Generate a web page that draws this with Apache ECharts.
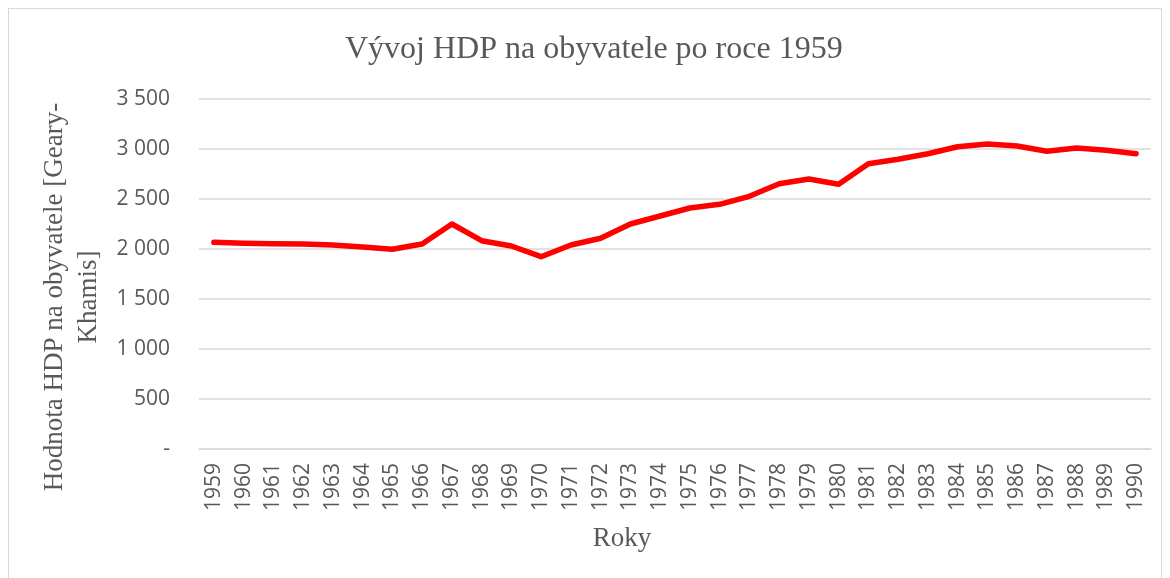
<!DOCTYPE html>
<html><head><meta charset="utf-8">
<script src="https://cdn.jsdelivr.net/npm/echarts@6/dist/echarts.min.js"></script>
<style>
html,body{margin:0;padding:0;background:#fff;}
#frame{position:absolute;left:8px;top:8px;width:1154px;height:580px;border:1.5px solid #d9d9d9;box-sizing:border-box;}
#c{position:absolute;left:0;top:0;width:1170px;height:578px;}
</style></head>
<body>
<div id="frame"></div>
<div id="c"></div>
<script>
const years = ['1959','1960','1961','1962','1963','1964','1965','1966','1967','1968','1969','1970','1971','1972','1973','1974','1975','1976','1977','1978','1979','1980','1981','1982','1983','1984','1985','1986','1987','1988','1989','1990'];
const gdp = [2067,2057,2053,2050,2040,2020,1997,2050,2250,2083,2030,1923,2040,2107,2250,2330,2410,2447,2527,2653,2700,2647,2853,2897,2953,3023,3050,3030,2977,3010,2987,2953];
const titleText = 'Vývoj HDP na obyvatele po roce 1959';
const yName = 'Hodnota HDP na obyvatele [Geary-\nKhamis]';
const xName = 'Roky';

const chart = echarts.init(document.getElementById('c'));
chart.setOption({
  animation:false,
  title:{text:titleText,left:340,top:29,textStyle:{fontFamily:'Liberation Serif',fontSize:32,fontWeight:'normal',color:'#595959'}},
  grid:{left:199,right:19,top:99,bottom:129},
  xAxis:{type:'category',data:years,boundaryGap:true,
    name:xName,nameLocation:'middle',nameGap:76,
    nameTextStyle:{fontFamily:'Liberation Serif',fontSize:27,color:'#595959',padding:[0,106,0,0]},
    axisLine:{show:true,lineStyle:{color:'#d9d9d9',width:1.5}},
    axisTick:{show:false},
    axisLabel:{rotate:90,interval:0,margin:14,fontFamily:'Open Sans',fontSize:21,color:'#595959'}},
  yAxis:{type:'value',min:0,max:3500,interval:500,
    name:yName,nameLocation:'middle',nameGap:86,
    nameTextStyle:{fontFamily:'Liberation Serif',fontSize:27,color:'#595959',lineHeight:34,padding:[0,46,0,0]},
    axisLine:{show:false},axisTick:{show:false},
    splitLine:{lineStyle:{color:'#d9d9d9',width:1.5}},
    axisLabel:{margin:29,fontFamily:'Open Sans',fontSize:21,color:'#595959',
      formatter:v=> v===0?'-':String(v).replace(/\B(?=(\d{3})+(?!\d))/g,' ')}},
  series:[{type:'line',data:gdp,symbol:'none',lineStyle:{color:'#ff0000',width:5.5,cap:'round',join:'round'}}]
});
</script>
</body></html>
